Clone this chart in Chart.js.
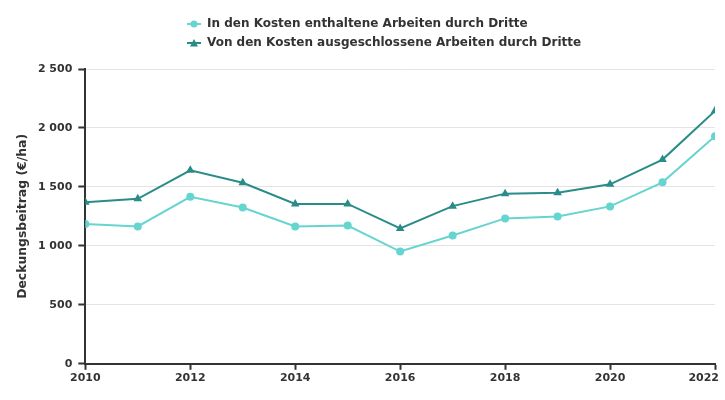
<!DOCTYPE html>
<html>
<head>
<meta charset="utf-8">
<script src="https://cdn.jsdelivr.net/npm/chart.js@4/dist/chart.umd.min.js"></script>
<style>
  html, body { margin: 0; padding: 0; background: #fff; }
  #wrap { width: 725px; height: 400px; }
</style>
</head>
<body>
<div id="wrap"><canvas id="c" width="725" height="400"></canvas></div>
<script>
const years = [2010, 2011, 2012, 2013, 2014, 2015, 2016, 2017, 2018, 2019, 2020, 2021, 2022];
const seriesIncluded = [1186, 1165, 1416, 1326, 1165, 1173, 952, 1088, 1233, 1250, 1335, 1539, 1930];
const seriesExcluded = [1369, 1399, 1641, 1535, 1356, 1356, 1148, 1337, 1443, 1451, 1522, 1732, 2145];
const labelIncluded = 'In den Kosten enthaltene Arbeiten durch Dritte';
const labelExcluded = 'Von den Kosten ausgeschlossene Arbeiten durch Dritte';
const yTicks = [0, 500, 1000, 1500, 2000, 2500];
const xTicks = [2010, 2012, 2014, 2016, 2018, 2020, 2022];
const yTitle = 'Deckungsbeitrag (€/ha)';

const colIncluded = '#66d4cf';
const colExcluded = '#2a8c89';
const textCol = '#333333';

function legendIcon(color, style) {
  const c = document.createElement('canvas');
  c.width = 14; c.height = 10;
  const g = c.getContext('2d');
  g.strokeStyle = color; g.fillStyle = color; g.lineWidth = 2;
  g.beginPath(); g.moveTo(0, 5); g.lineTo(14, 5); g.stroke();
  g.beginPath();
  if (style === 'circle') {
    g.arc(7, 5, 3.5, 0, Math.PI * 2);
  } else {
    g.moveTo(7, 1); g.lineTo(11, 8.5); g.lineTo(3, 8.5); g.closePath();
  }
  g.fill();
  return c;
}
const iconIncluded = legendIcon(colIncluded, 'circle');
const iconExcluded = legendIcon(colExcluded, 'triangle');

const fmt = v => String(v).replace(/\B(?=(\d{3})+(?!\d))/g, ' ');

const layoutTweaks = {
  id: 'layoutTweaks',
  beforeLayout(chart) {
    const lg = chart.legend;
    if (lg && !lg._patched) {
      const origFit = lg.fit;
      lg.fit = function () { origFit.call(this); this.height += 10; };
      lg._patched = true;
    }
    const xs = chart.scales && chart.scales.x;
    if (xs && !xs._patched) {
      const origCompute = xs._computeLabelItems;
      xs._computeLabelItems = function (area) {
        const items = origCompute.call(this, area);
        if (items.length) {
          const last = items[items.length - 1];
          last.options.textAlign = 'right';
          last.options.translation = [last.options.translation[0] + 4, last.options.translation[1]];
        }
        return items;
      };
      xs._patched = true;
    }
  },
  afterLayout(chart) {
    const lg = chart.legend;
    const p = lg.options.labels.padding;
    lg.left = 187 - p;
  }
};

const chart = new Chart(document.getElementById('c'), {
  type: 'line',
  data: {
    datasets: [
      {
        label: labelIncluded,
        data: years.map((y, i) => ({x: y, y: seriesIncluded[i]})),
        borderColor: colIncluded,
        backgroundColor: colIncluded,
        borderWidth: 2,
        pointStyle: 'circle',
        pointRadius: 4,
        pointBorderWidth: 0,
        pointHoverRadius: 4,
        tension: 0
      },
      {
        label: labelExcluded,
        data: years.map((y, i) => ({x: y, y: seriesExcluded[i]})),
        borderColor: colExcluded,
        backgroundColor: colExcluded,
        borderWidth: 2,
        pointStyle: 'triangle',
        pointRadius: 5,
        pointBorderWidth: 0,
        pointHoverRadius: 5,
        tension: 0
      }
    ]
  },
  options: {
    responsive: false,
    animation: false,
    devicePixelRatio: 1,
    layout: { padding: { top: 11, right: 10, bottom: 13, left: 15 } },
    plugins: {
      tooltip: { enabled: false },
      legend: {
        position: 'top',
        align: 'start',
        labels: {
          usePointStyle: true,
          boxWidth: 14,
          boxHeight: 12,
          pointStyleWidth: 14,
          padding: 7,
          color: textCol,
          font: { family: 'DejaVu Sans', size: 12, weight: 'bold' },
          generateLabels(chart) {
            return chart.data.datasets.map((ds, i) => ({
              text: ds.label,
              fillStyle: ds.backgroundColor,
              strokeStyle: ds.borderColor,
              lineWidth: 0,
              pointStyle: i === 0 ? iconIncluded : iconExcluded,
              hidden: false,
              datasetIndex: i,
              fontColor: textCol
            }));
          }
        }
      }
    },
    scales: {
      x: {
        type: 'linear',
        min: 2010,
        max: 2022,
        afterBuildTicks(axis) { axis.ticks = xTicks.map(v => ({value: v})); },
        afterFit(axis) { axis.paddingRight = 0; },
        ticks: {
          color: textCol,
          font: { family: 'DejaVu Sans', size: 11, weight: 'bold' },
          padding: 2,
          maxRotation: 0,
          autoSkip: false,
          callback: v => String(v)
        },
        grid: {
          drawOnChartArea: false,
          drawTicks: true,
          tickLength: 6,
          tickColor: textCol,
          tickWidth: 2
        },
        border: { display: true, color: textCol, width: 2 }
      },
      y: {
        min: 0,
        max: 2500,
        afterBuildTicks(axis) { axis.ticks = yTicks.map(v => ({value: v})); },
        ticks: {
          color: textCol,
          font: { family: 'DejaVu Sans', size: 11, weight: 'bold' },
          padding: 6,
          callback: v => fmt(v)
        },
        grid: {
          color: '#e3e3e3',
          lineWidth: 1,
          drawTicks: true,
          tickLength: 7,
          tickColor: textCol,
          tickWidth: 2
        },
        border: { display: true, color: textCol, width: 2 },
        title: {
          display: true,
          text: yTitle,
          color: textCol,
          font: { family: 'DejaVu Sans', size: 12.4, weight: 'bold' },
          padding: { top: 0, bottom: 2 }
        }
      }
    }
  },
  plugins: [layoutTweaks]
});
</script>
</body>
</html>
